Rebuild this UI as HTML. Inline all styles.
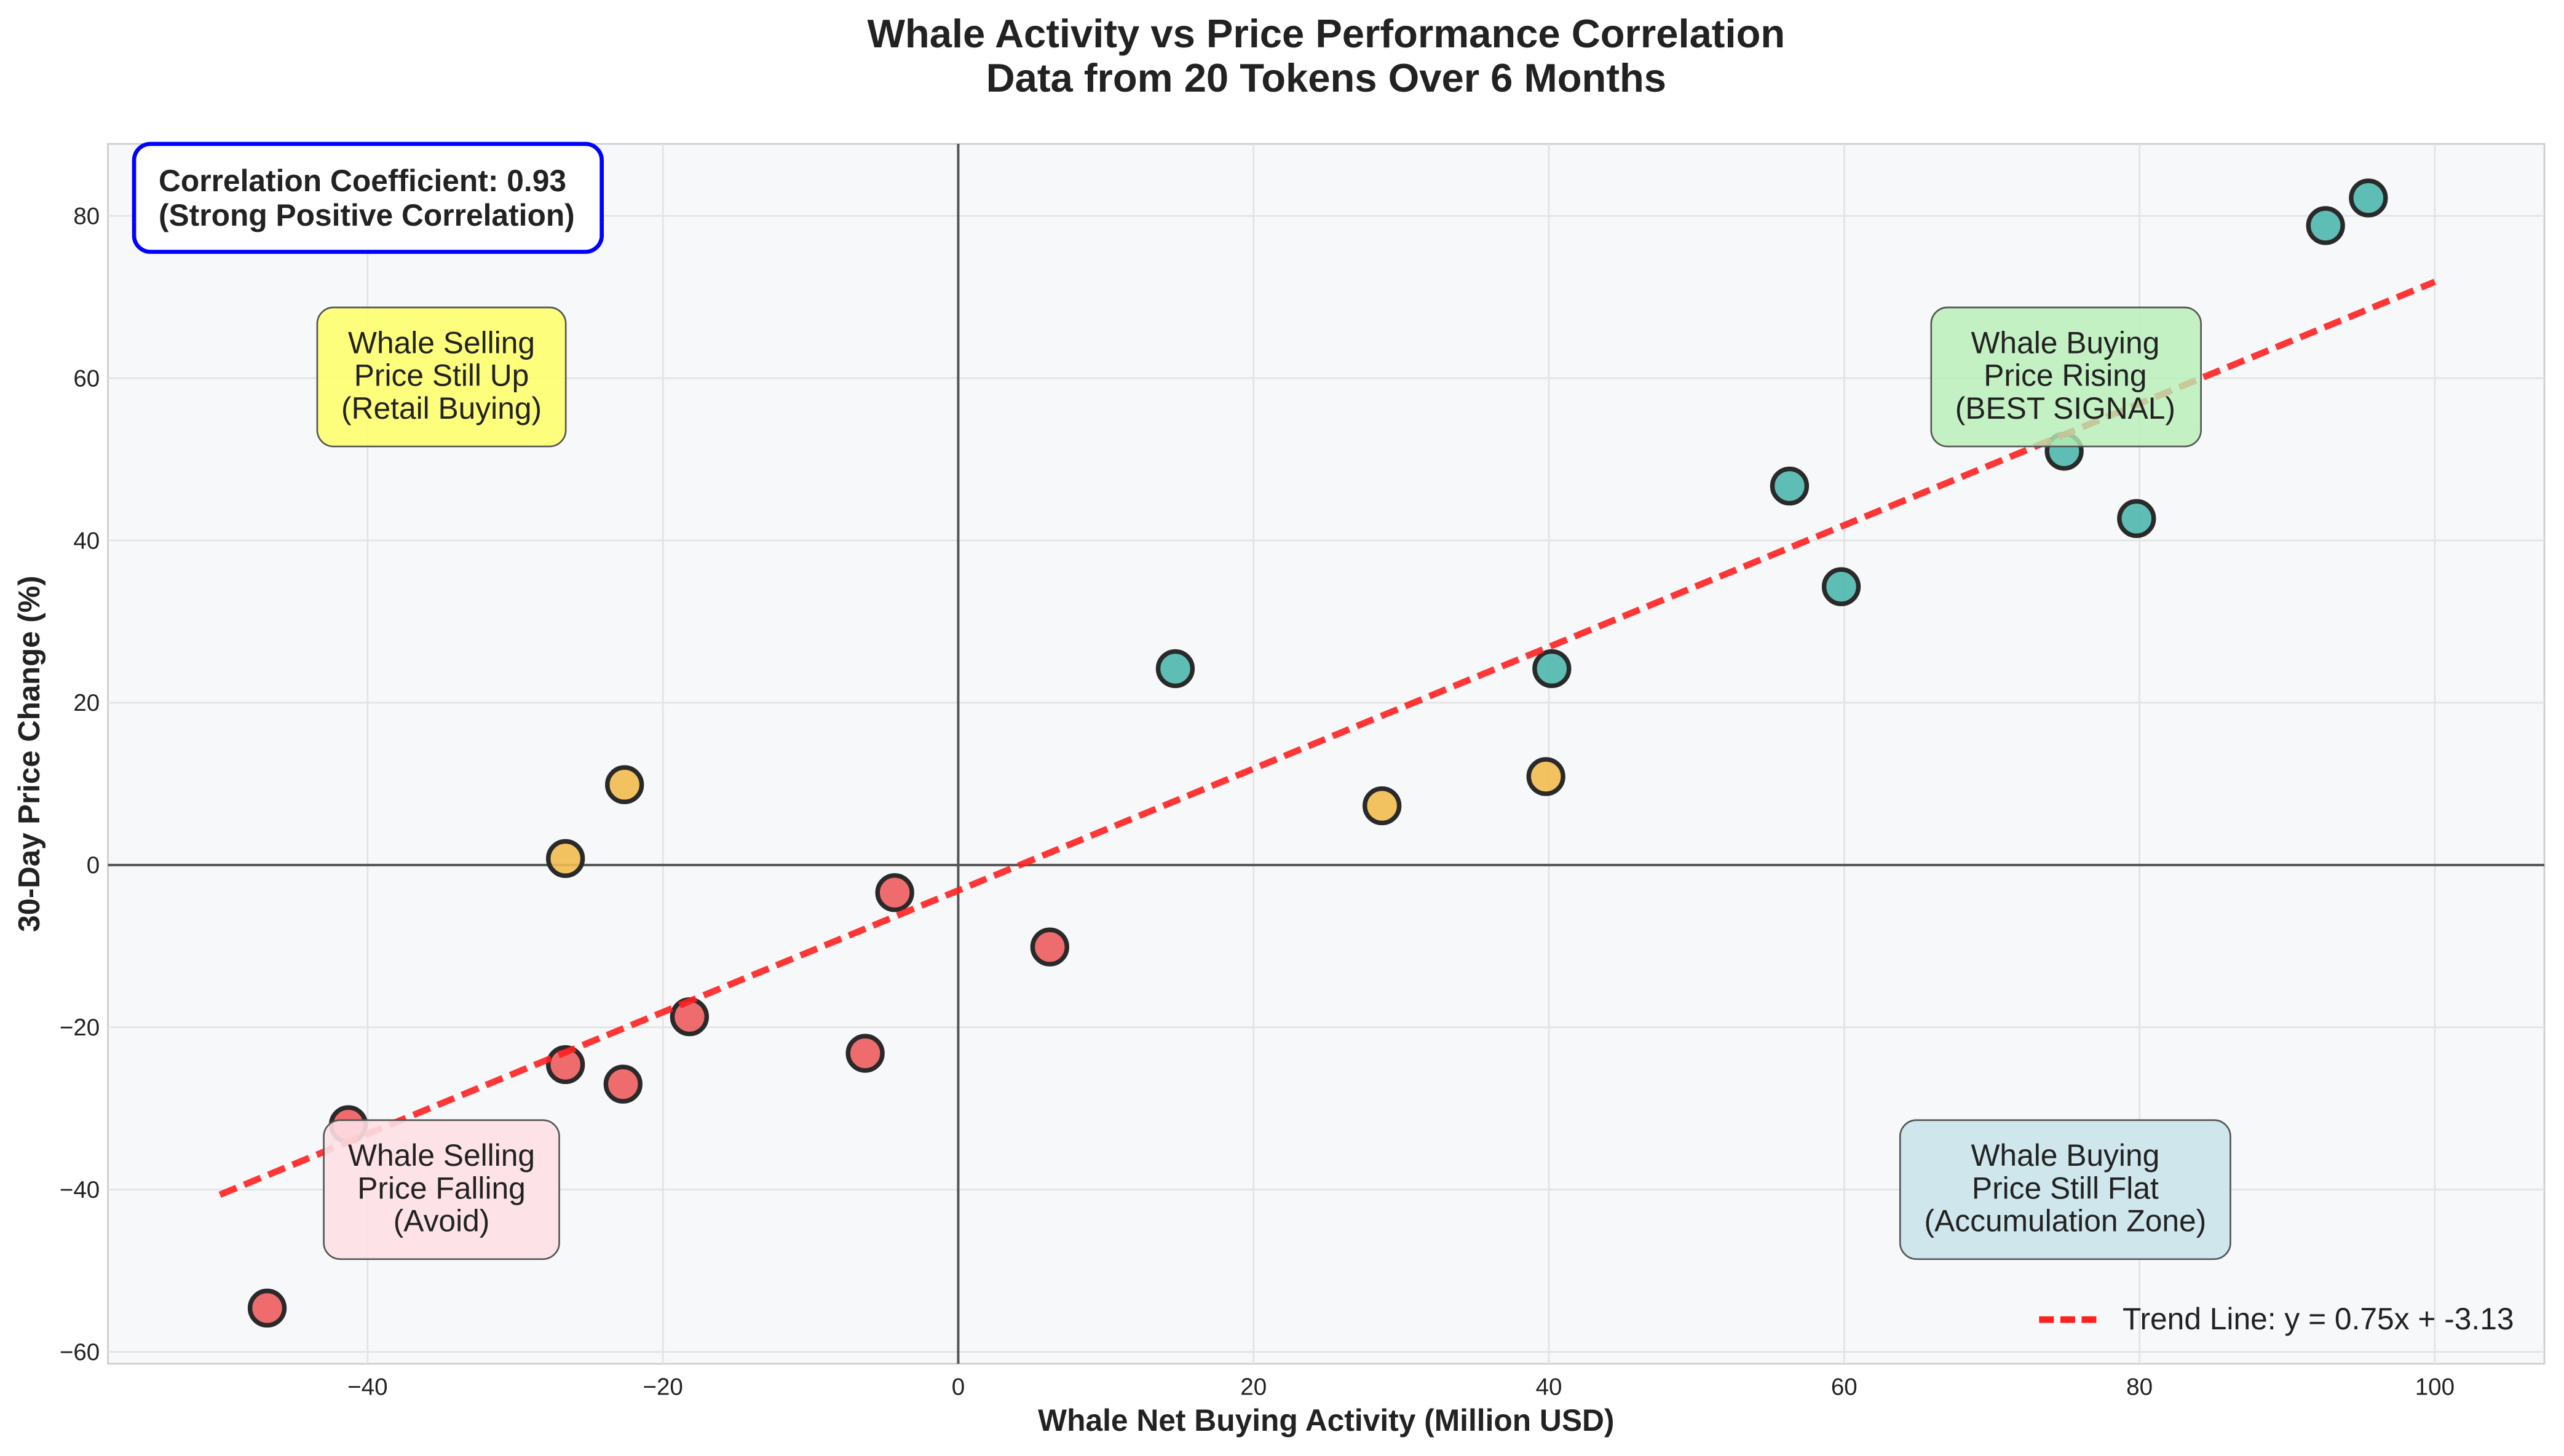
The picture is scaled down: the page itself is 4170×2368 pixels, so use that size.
<!DOCTYPE html>
<html><head><meta charset="utf-8"><style>
html,body{margin:0;padding:0;background:#fff;}
svg{display:block;font-family:"Liberation Sans",sans-serif;}
</style></head><body>
<svg id="chart" width="4170" height="2368" viewBox="0 0 1568 890.4" xmlns="http://www.w3.org/2000/svg">
<rect x="0" y="0" width="1568" height="891" fill="#fff"/>
<text x="811" y="29" text-anchor="middle" font-size="24.5" font-weight="bold" fill="#222">Whale Activity vs Price Performance Correlation</text>
<text x="811" y="56" text-anchor="middle" font-size="24.5" font-weight="bold" fill="#222">Data from 20 Tokens Over 6 Months</text>
<rect x="66" y="88" width="1490" height="746" fill="#f7f8fa" stroke="#ccc" stroke-width="1"/>
<g id="grid"></g>
<g id="ticks"></g>
<g id="marks"></g>
<text x="811" y="875" text-anchor="middle" font-size="18.7" font-weight="bold" fill="#222">Whale Net Buying Activity (Million USD)</text>
<text transform="translate(24,461) rotate(-90)" text-anchor="middle" font-size="18.5" font-weight="bold" fill="#222">30-Day Price Change (%)</text>
<g>
<rect x="82" y="88" width="286" height="66" rx="10" fill="#fff" stroke="#0000ff" stroke-width="2.5"/>
<text x="97" y="117" font-size="18.7" font-weight="bold" fill="#222">Correlation Coefficient: 0.93</text>
<text x="97" y="138" font-size="18.7" font-weight="bold" fill="#222">(Strong Positive Correlation)</text>
</g>
<g>
<rect x="194" y="188" width="152" height="85" rx="10" fill="#ffff66" fill-opacity="0.85" stroke="#555"/>
<text x="270" y="216" text-anchor="middle" font-size="18.7" fill="#222">Whale Selling</text>
<text x="270" y="236" text-anchor="middle" font-size="18.7" fill="#222">Price Still Up</text>
<text x="270" y="256" text-anchor="middle" font-size="18.7" fill="#222">(Retail Buying)</text>
</g>
<g>
<rect x="1181" y="188" width="165" height="85" rx="10" fill="#b7efb7" fill-opacity="0.8" stroke="#555"/>
<text x="1263" y="216" text-anchor="middle" font-size="18.7" fill="#222">Whale Buying</text>
<text x="1263" y="236" text-anchor="middle" font-size="18.7" fill="#222">Price Rising</text>
<text x="1263" y="256" text-anchor="middle" font-size="18.7" fill="#222">(BEST SIGNAL)</text>
</g>
<g>
<rect x="198" y="685" width="144" height="85" rx="10" fill="#fde0e4" fill-opacity="0.9" stroke="#555"/>
<text x="270" y="713" text-anchor="middle" font-size="18.7" fill="#222">Whale Selling</text>
<text x="270" y="733" text-anchor="middle" font-size="18.7" fill="#222">Price Falling</text>
<text x="270" y="753" text-anchor="middle" font-size="18.7" fill="#222">(Avoid)</text>
</g>
<g>
<rect x="1162" y="685" width="202" height="85" rx="10" fill="#cfe6ec" stroke="#555"/>
<text x="1263" y="713" text-anchor="middle" font-size="18.7" fill="#222">Whale Buying</text>
<text x="1263" y="733" text-anchor="middle" font-size="18.7" fill="#222">Price Still Flat</text>
<text x="1263" y="753" text-anchor="middle" font-size="18.7" fill="#222">(Accumulation Zone)</text>
</g>
<g>
<line x1="1247" y1="807" x2="1285" y2="807" stroke="#ff2020" stroke-width="4" stroke-dasharray="9,4"/>
<text x="1298" y="813" font-size="18.7" fill="#222">Trend Line: y = 0.75x + -3.13</text>
</g>
</svg>
<script>
const xValues=[95.5,92.6,74.9,79.8,56.3,59.8,40.2,14.7,39.8,28.7,-22.6,-26.6,-4.3,6.2,-18.2,-6.3,-26.6,-22.7,-41.3,-46.8];
const yValues=[82.2,78.8,51,42.7,46.7,34.3,24.2,24.2,10.9,7.3,9.9,0.8,-3.4,-10.1,-18.7,-23.2,-24.6,-27,-32,-54.6];
const groups=['teal','teal','teal','teal','teal','teal','teal','teal','orange','orange','orange','orange','red','red','red','red','red','red','red','red'];
const xTicks=[-40,-20,0,20,40,60,80,100];
const yTicks=[-60,-40,-20,0,20,40,60,80];
const trendSlope=0.75, trendIntercept=-3.13, trendRange=[-50,100];
const colors={teal:'#4db6ac',orange:'#f2bb4f',red:'#ec5b5e'};
const NS='http://www.w3.org/2000/svg';
const X=v=>586+v*9.03, Y=v=>529-v*4.9625;
function mk(t,a,p){const e=document.createElementNS(NS,t);for(const k in a)e.setAttribute(k,a[k]);p.appendChild(e);return e;}
const grid=document.getElementById('grid'),ticks=document.getElementById('ticks'),marks=document.getElementById('marks');
xTicks.forEach(t=>{
 const l=mk('line',{x1:X(t),x2:X(t),y1:88,y2:834,stroke:'#e3e3e3','stroke-width':1},grid);
 
 
 const tx=mk('text',{x:X(t),y:853,'text-anchor':'middle','font-size':14.5,fill:'#222'},ticks);
 tx.textContent=t<0?'\u2212'+(-t):t;
 
 
});
yTicks.forEach(t=>{
 const l=mk('line',{x1:66,x2:1556,y1:Y(t),y2:Y(t),stroke:'#e3e3e3','stroke-width':1},grid);
 
 
 const tx=mk('text',{x:61,y:Y(t)+5,'text-anchor':'end','font-size':14.5,fill:'#222'},ticks);
 tx.textContent=t<0?'\u2212'+(-t):t;
 
 
});
const zx=mk('line',{x1:X(0),x2:X(0),y1:88,y2:834,stroke:'#555','stroke-width':1.5},grid);


const zy=mk('line',{x1:66,x2:1556,y1:Y(0),y2:Y(0),stroke:'#555','stroke-width':1.5},grid);


xValues.forEach((v,i)=>{
 const c=mk('circle',{cx:X(v),cy:Y(yValues[i]),r:10.5,fill:colors[groups[i]],'fill-opacity':0.9,stroke:'#2a2a2a','stroke-width':2.8},marks);
 
 
});
const tl=mk('line',{x1:X(trendRange[0]),y1:Y(trendSlope*trendRange[0]+trendIntercept),x2:X(trendRange[1]),y2:Y(trendSlope*trendRange[1]+trendIntercept),stroke:'#ff2020','stroke-opacity':0.9,'stroke-width':4,'stroke-dasharray':'11,5'},marks);


</script>
</body></html>
